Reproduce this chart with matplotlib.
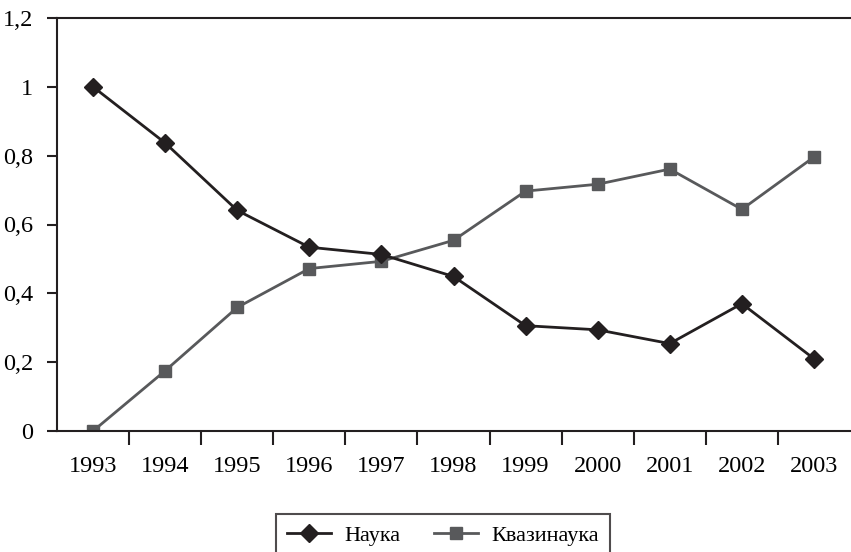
import matplotlib
matplotlib.use("Agg")
import matplotlib.pyplot as plt
from matplotlib.ticker import FixedLocator, FuncFormatter

years = ["1993", "1994", "1995", "1996", "1997", "1998", "1999", "2000", "2001", "2002", "2003"]
nauka = [1.0, 0.837, 0.641, 0.534, 0.513, 0.449, 0.306, 0.294, 0.254, 0.370, 0.210]
kvazi = [0.0, 0.175, 0.359, 0.472, 0.493, 0.554, 0.697, 0.717, 0.761, 0.644, 0.796]
yticks = [0, 0.2, 0.4, 0.6, 0.8, 1.0, 1.2]

plt.rcParams['font.family'] = ['Liberation Serif', 'DejaVu Serif']
fig = plt.figure(figsize=(8.51, 5.52), dpi=100)
ax = fig.add_axes([57/851, 1-431/552, (850-57)/851, (431-18)/552])

x = list(range(len(years)))
ax.plot(x, nauka, color='#231f20', lw=2, marker='D', ms=9, label='Наука', zorder=3)
ax.plot(x, kvazi, color='#58595b', lw=2, marker='s', ms=8.5, label='Квазинаука', zorder=2)

ax.set_xlim(-0.5, len(years) - 0.5)
ax.set_ylim(0, 1.2)
ax.set_yticks(yticks)
ax.yaxis.set_major_formatter(FuncFormatter(lambda v, p: ('%g' % round(v, 1)).replace('.', ',')))
ax.set_xticks(x)
ax.set_xticklabels(years)
ax.xaxis.set_minor_locator(FixedLocator([i + 0.5 for i in range(len(years) - 1)]))
ax.tick_params(axis='x', which='major', length=0, pad=18, labelsize=17.5)
ax.tick_params(axis='x', which='minor', length=10, width=1.5, direction='out', color='#231f20')
ax.tick_params(axis='y', length=7, width=1.5, pad=10, labelsize=17.5, color='#231f20')
for s in ['left', 'bottom', 'top']:
    ax.spines[s].set_linewidth(1.5)
    ax.spines[s].set_color('#231f20')
ax.spines['right'].set_visible(False)

leg = fig.legend(loc='lower center', bbox_to_anchor=(443/851, -0.025), ncol=2, fontsize=16,
                 frameon=True, fancybox=False, edgecolor='#231f20', handlelength=2.0,
                 columnspacing=1.5, handletextpad=0.6, borderpad=0.5, borderaxespad=0.4)
leg.get_frame().set_linewidth(1.5)

fig.savefig('out.png', dpi=100)
